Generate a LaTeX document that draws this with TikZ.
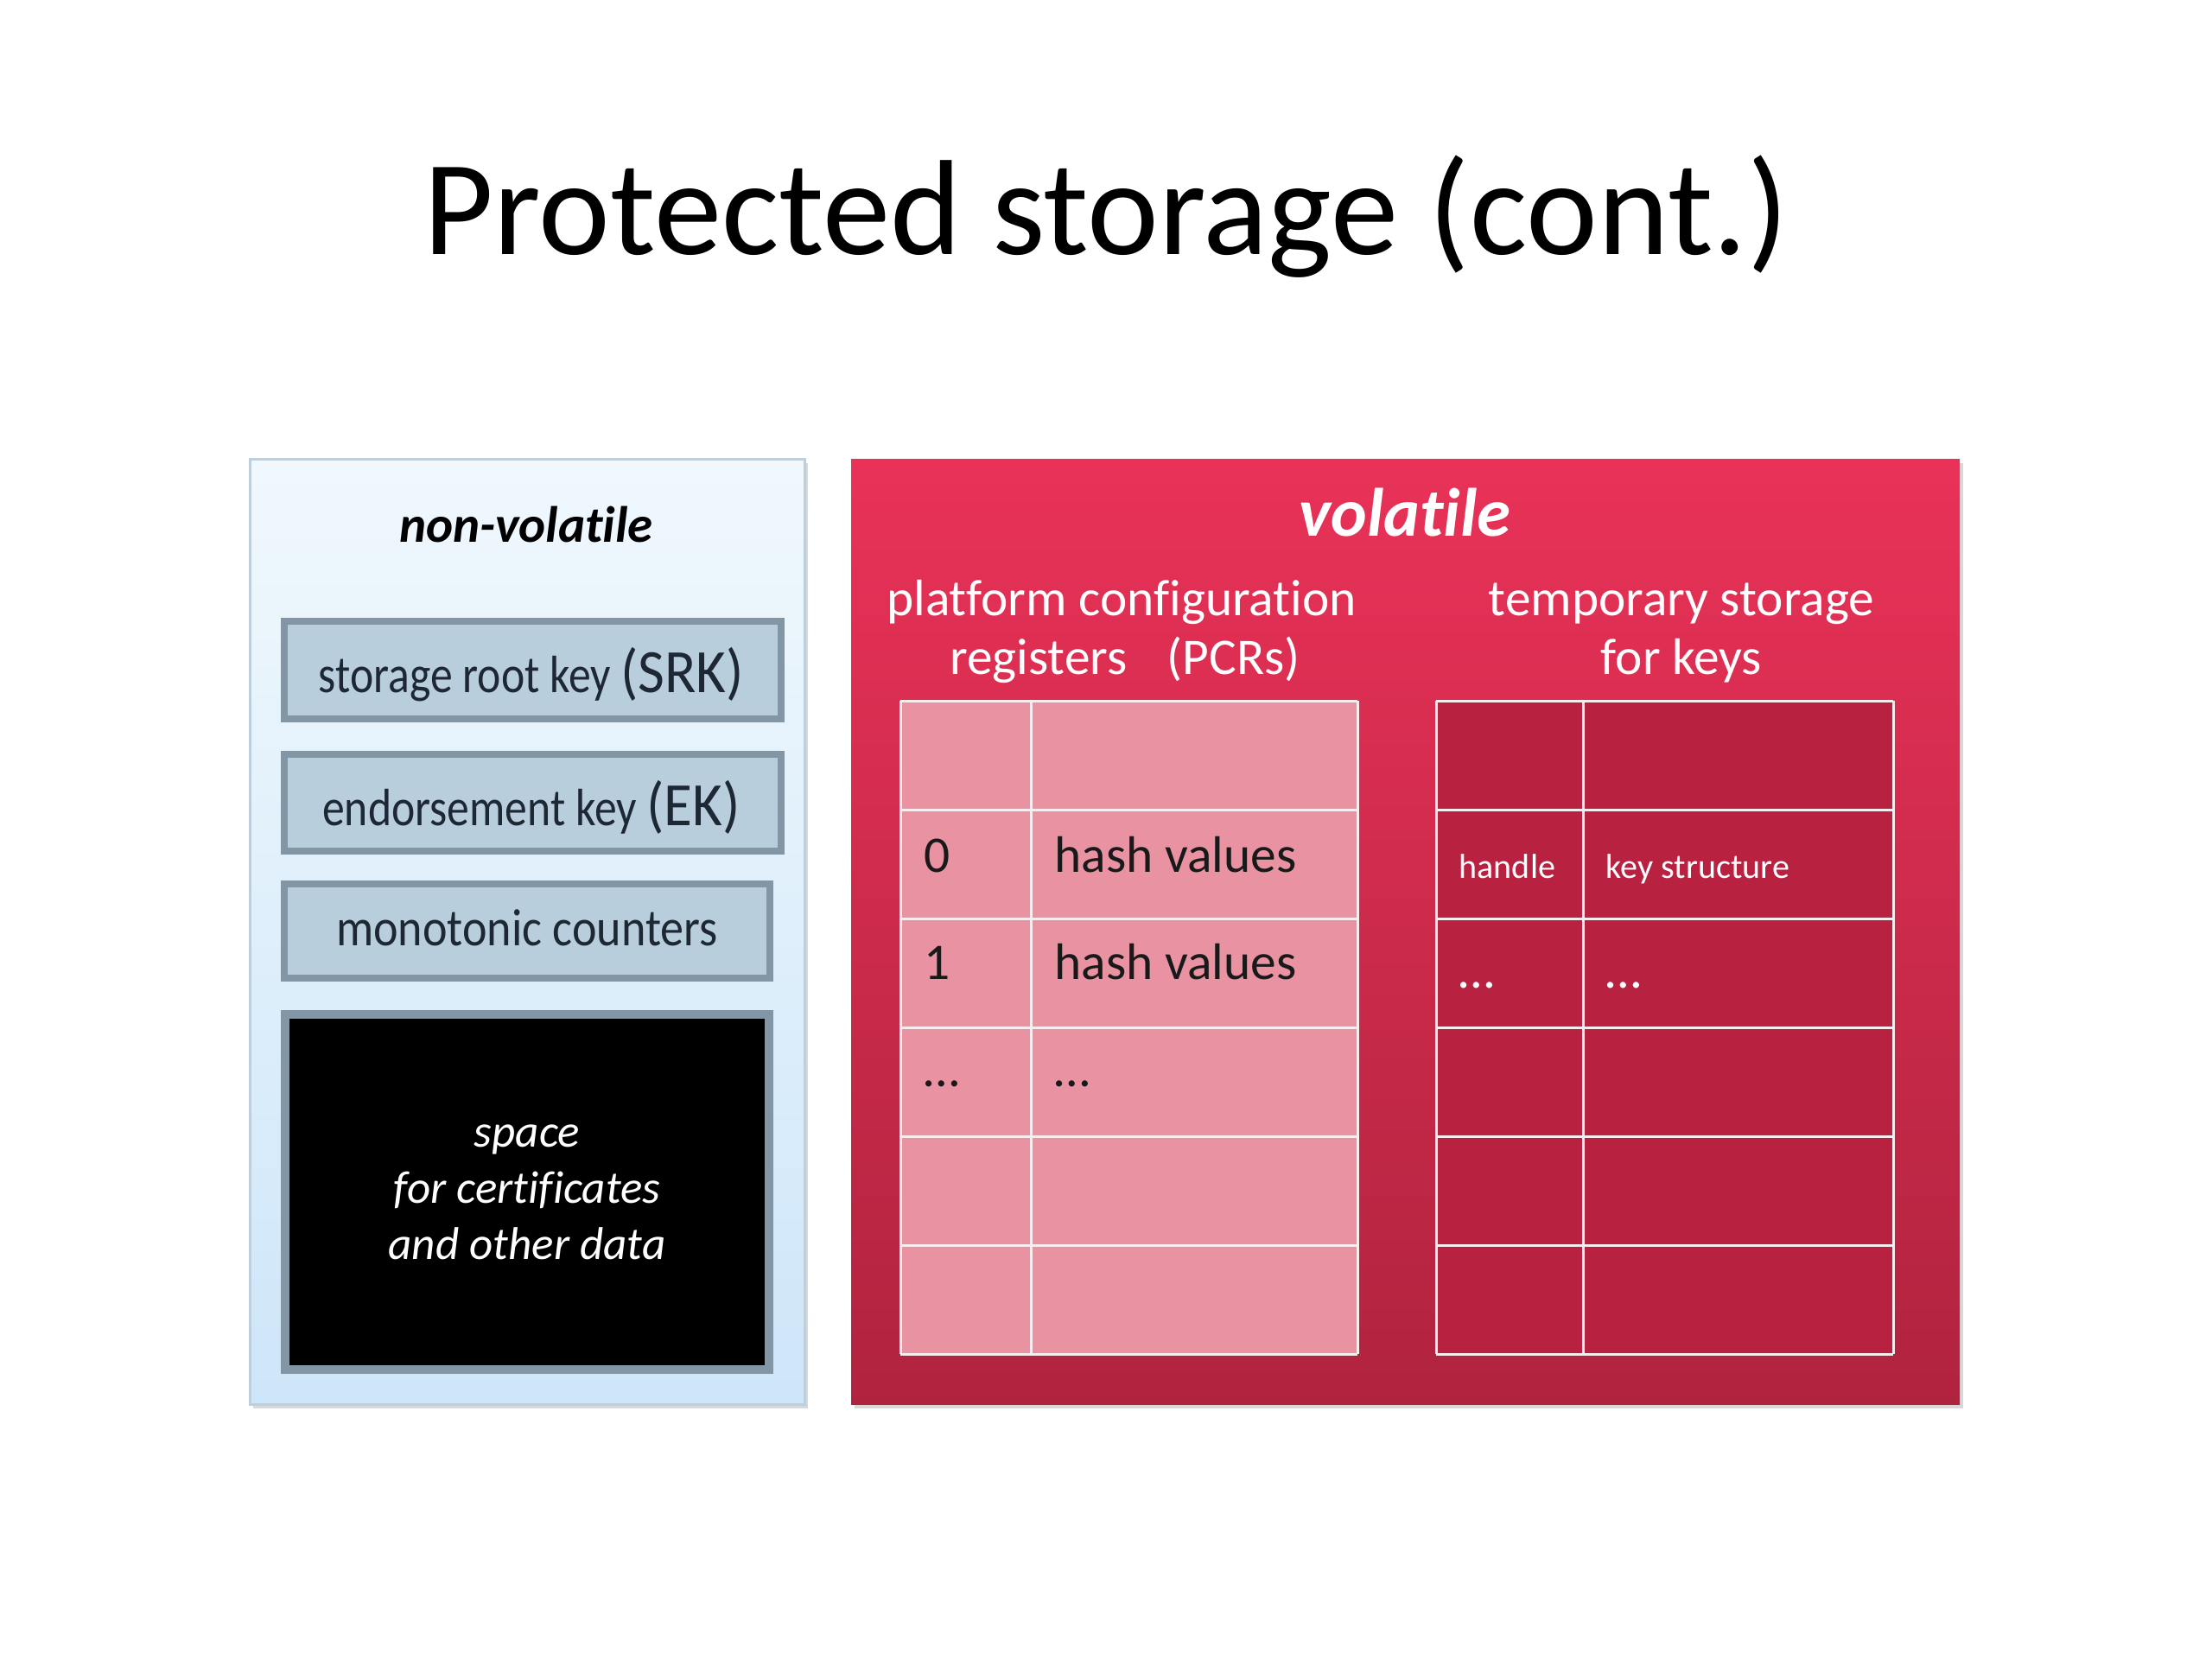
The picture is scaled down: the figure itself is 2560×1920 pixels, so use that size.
\documentclass[tikz,border=0pt]{standalone}
\usepackage{fontspec}
\setmainfont{Carlito}[Ligatures=NoCommon, RawFeature={-calt;-clig}]
\usetikzlibrary{shadows}
\definecolor{nvtop}{RGB}{240,248,253}
\definecolor{nvbot}{RGB}{206,230,249}
\definecolor{nvedge}{RGB}{190,206,218}
\definecolor{boxfill}{RGB}{185,206,221}
\definecolor{boxedge}{RGB}{131,150,165}
\definecolor{boxtext}{RGB}{30,40,52}
\definecolor{vtop}{RGB}{233,50,88}
\definecolor{vbot}{RGB}{176,35,62}
\definecolor{pcrfill}{RGB}{232,146,162}
\definecolor{keyfill}{RGB}{185,33,65}
\definecolor{gridline}{RGB}{248,236,239}
\tikzset{
  panelshadow/.style={drop shadow={shadow xshift=0.35mm, shadow yshift=-0.45mm, opacity=0.25, fill=black!60}},
  leftpanel/.style={rectangle, draw=nvedge, line width=0.3mm, top color=nvtop, bottom color=nvbot, panelshadow, inner sep=0pt},
  rightpanel/.style={rectangle, draw=none, top color=vtop, bottom color=vbot, panelshadow, inner sep=0pt},
  keybox/.style={rectangle, draw=boxedge, line width=0.8mm, fill=boxfill, inner sep=0pt},
  blackbox/.style={rectangle, draw=boxedge, line width=1mm, fill=black, inner sep=0pt},
  boxlabel/.style={anchor=base, text=boxtext, inner sep=0pt},
  whitelabel/.style={anchor=base, text=white, inner sep=0pt, font=\fontsize{16.9}{20}\selectfont},
  celltext/.style={anchor=base west, text=black!90, inner sep=0pt, font=\fontsize{16.9}{20}\selectfont},
  smallcell/.style={anchor=base west, text=white, inner sep=0pt, font=\fontsize{11.4}{14}\selectfont},
  tablegrid/.style={draw=gridline, line width=0.3mm},
  stretchA/.style={font=\fontsize{17.3}{20}\selectfont\addfontfeature{FakeStretch=0.85}},
}
\newcommand{\bigpart}[1]{{\fontsize{20.3}{24}\selectfont\addfontfeature{FakeStretch=0.94}#1}}
\begin{document}
\begin{tikzpicture}[x=0.1mm,y=-0.1mm]
\useasboundingbox[fill=white] (0,0) rectangle (2560,1920);

% title
\node[anchor=base, inner sep=0pt, font=\fontsize{44.6}{50}\selectfont] (title) at (1280,294) {Protected storage (cont.)};

% left panel
\node[leftpanel, minimum width=64.2mm, minimum height=109.4mm] (nv) at (610,1078) {};
\node[anchor=base, inner sep=0pt, font=\fontsize{16.8}{20}\selectfont\bfseries\itshape] (nvtitle) at (609,627) {non-volatile};

\node[keybox, minimum width=57.5mm, minimum height=11.3mm] (srk) at (616.5,775.5) {};
\node[boxlabel, stretchA] (srkt) at (615,801) {storage root key \bigpart{(SRK)}};

\node[keybox, minimum width=57.5mm, minimum height=11.2mm] (ek) at (616.5,929) {};
\node[boxlabel, stretchA] (ekt) at (615,955) {endorsement key \bigpart{(EK)}};

\node[keybox, minimum width=56.2mm, minimum height=10.9mm] (mc) at (610,1077.5) {};
\node[boxlabel, font=\fontsize{17.3}{20}\selectfont\addfontfeature{FakeStretch=0.89}] (mct) at (610,1094) {monotonic counters};

\node[blackbox, minimum width=56mm, minimum height=41.1mm] (cert) at (610,1379.5) {};
\node[align=center, text=white, inner sep=0pt, font=\fontsize{15.1}{18.5}\selectfont\itshape] (certt) at (610,1380) {space\\for certificates\\and other data};

% right panel
\node[rightpanel, minimum width=128.3mm, minimum height=109.4mm] (vol) at (1626.5,1078) {};
\node[anchor=base, text=white, inner sep=0pt, font=\fontsize{22.5}{26}\selectfont\bfseries\itshape] (voltitle) at (1626,620) {volatile};

\node[whitelabel] (pcr1) at (1298,712) {platform configuration};
\node[whitelabel] (pcr2) at (1302,780) {registers\hspace{0.78em}(PCRs)};
\node[whitelabel] (tmp1) at (1946,712) {temporary storage};
\node[whitelabel] (tmp2) at (1946,780) {for keys};

% PCR table
\fill[pcrfill] (1042,811) rectangle (1571,1567);
\foreach \yy in {811,937,1063,1189,1315,1441,1567}
  \draw[tablegrid] (1042,\yy) -- (1571,\yy);
\foreach \xx in {1042,1193,1571}
  \draw[tablegrid] (\xx,811) -- (\xx,1567);
\node[celltext] (p0) at (1069,1009) {0};
\node[celltext] (h0) at (1220,1009) {hash values};
\node[celltext] (p1) at (1069,1133) {1};
\node[celltext] (h1) at (1220,1133) {hash values};
\node[celltext] (pd) at (1069,1257) {\ldots};
\node[celltext] (hd) at (1220,1257) {\ldots};

% key table
\fill[keyfill] (1662,811) rectangle (2191,1567);
\foreach \yy in {811,937,1063,1189,1315,1441,1567}
  \draw[tablegrid] (1662,\yy) -- (2191,\yy);
\foreach \xx in {1662,1832,2191}
  \draw[tablegrid] (\xx,811) -- (\xx,1567);
\node[smallcell] (kh) at (1688,1016) {handle};
\node[smallcell] (ks) at (1858,1016) {key structure};
\node[smallcell, font=\fontsize{16.9}{20}\selectfont] (kd1) at (1688,1143) {\ldots};
\node[smallcell, font=\fontsize{16.9}{20}\selectfont] (kd2) at (1858,1143) {\ldots};
\end{tikzpicture}
\end{document}
